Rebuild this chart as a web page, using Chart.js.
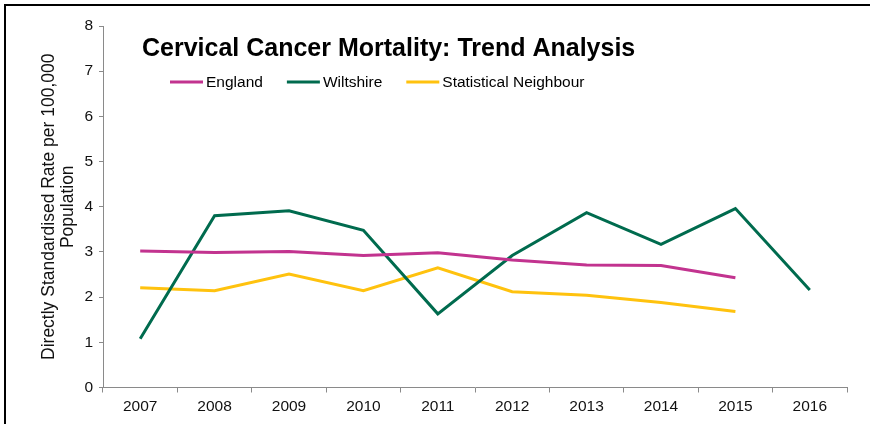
<!DOCTYPE html>
<html>
<head>
<meta charset="utf-8">
<script src="https://cdn.jsdelivr.net/npm/chart.js@4/dist/chart.umd.min.js"></script>
<style>
  html, body { margin: 0; padding: 0; background: #ffffff; }
  #wrap { width: 870px; height: 424px; }
</style>
</head>
<body>
<div id="wrap"><canvas id="chart" width="870" height="424"></canvas></div>
<script>
// Cervical cancer mortality, directly standardised rate per 100,000 population
const years = ['2007', '2008', '2009', '2010', '2011', '2012', '2013', '2014', '2015', '2016'];
const england = [3.02, 2.99, 3.01, 2.92, 2.98, 2.82, 2.71, 2.70, 2.43, null];
const wiltshire = [1.08, 3.80, 3.91, 3.48, 1.63, 2.92, 3.87, 3.17, 3.96, 2.16];
const statNeighbour = [2.21, 2.14, 2.51, 2.14, 2.65, 2.12, 2.04, 1.88, 1.68, null];
const yTicks = [0, 1, 2, 3, 4, 5, 6, 7, 8];

const chartTitle = 'Cervical Cancer Mortality: Trend Analysis';
const yTitle = ['Directly Standardised Rate per 100,000', 'Population'];

const COLORS = { england: '#C2338F', wiltshire: '#006B4E', neighbour: '#FFC20E', axis: '#8A8A8A' };
const FONT = '"Liberation Sans", Arial, sans-serif';

// Frame, heading and line legend drawn over the plot
const decorations = {
  id: 'decorations',
  beforeDraw(chart) {
    const ctx = chart.ctx;
    ctx.save();
    ctx.fillStyle = '#ffffff';
    ctx.fillRect(0, 0, chart.width, chart.height);
    ctx.restore();
  },
  afterDraw(chart) {
    const ctx = chart.ctx;
    ctx.save();
    // outer frame (top and left edges)
    ctx.fillStyle = '#000000';
    ctx.fillRect(4, 4, chart.width - 4, 2);
    ctx.fillRect(4, 4, 2, chart.height - 4);

    // heading
    ctx.fillStyle = '#000000';
    ctx.font = 'bold 25px ' + FONT;
    ctx.textAlign = 'left';
    ctx.textBaseline = 'alphabetic';
    ctx.fillText(chartTitle, 142, 56);

    // legend
    ctx.font = '15.5px ' + FONT;
    ctx.textBaseline = 'middle';
    let x = 170;
    const y = 82;
    chart.data.datasets.forEach(ds => {
      ctx.strokeStyle = ds.borderColor;
      ctx.lineWidth = 3;
      ctx.beginPath();
      ctx.moveTo(x, y);
      ctx.lineTo(x + 33, y);
      ctx.stroke();
      ctx.fillStyle = '#000000';
      ctx.fillText(ds.label, x + 36, y + 0.5);
      x += 36 + ctx.measureText(ds.label).width + 24;
    });
    ctx.restore();
  }
};

const lineSeries = (label, data, color) => ({
  label, data,
  borderColor: color,
  backgroundColor: color,
  borderWidth: 3,
  pointRadius: 0,
  pointHoverRadius: 0,
  tension: 0,
  fill: false,
  spanGaps: false
});

new Chart(document.getElementById('chart'), {
  type: 'line',
  data: {
    labels: years,
    datasets: [
      lineSeries('England', england, COLORS.england),
      lineSeries('Wiltshire', wiltshire, COLORS.wiltshire),
      lineSeries('Statistical Neighbour', statNeighbour, COLORS.neighbour)
    ]
  },
  options: {
    responsive: false,
    animation: false,
    devicePixelRatio: 1,
    layout: { padding: { left: 30, top: 26, right: 23, bottom: 0 } },
    plugins: {
      legend: { display: false },
      title: { display: false },
      tooltip: { enabled: false }
    },
    scales: {
      x: {
        type: 'category',
        offset: true,
        grid: { offset: true, drawOnChartArea: false, drawTicks: true, tickLength: 5, color: COLORS.axis, lineWidth: 1 },
        border: { display: true, color: COLORS.axis, width: 1 },
        ticks: { color: '#111111', font: { family: FONT, size: 15.5 }, padding: 5, maxRotation: 0, autoSkip: false },
        afterFit(scale) { scale.height = 36.5; }
      },
      y: {
        min: 0,
        max: 8,
        afterBuildTicks(scale) { scale.ticks = yTicks.map(v => ({ value: v })); },
        grid: { drawOnChartArea: false, drawTicks: true, tickLength: 4, color: COLORS.axis, lineWidth: 1 },
        border: { display: true, color: COLORS.axis, width: 1 },
        ticks: { color: '#111111', font: { family: FONT, size: 15.5 }, padding: 6 },
        title: {
          display: true,
          text: yTitle,
          color: '#111111',
          font: { family: FONT, size: 17.5, lineHeight: 1.12 },
          padding: { top: 9, bottom: 4 }
        },
        afterFit(scale) { scale.width = 73; }
      }
    }
  },
  plugins: [decorations]
});
</script>
</body>
</html>
